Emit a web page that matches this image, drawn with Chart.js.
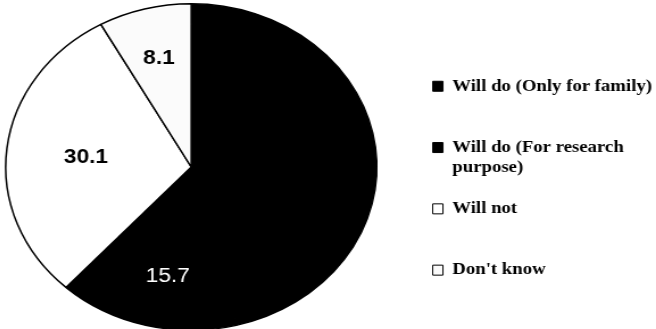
<!DOCTYPE html>
<html>
<head>
<meta charset="utf-8">
<script src="https://cdn.jsdelivr.net/npm/chart.js@4/dist/chart.umd.min.js"></script>
<style>
  html, body { margin: 0; padding: 0; background: #fff; overflow: hidden; }
  #pie { display: block; margin-left: -26.15px; }
</style>
</head>
<body>
<canvas id="pie" width="600" height="334" style="width:682.1px;height:334px"></canvas>
<script>
// data (percent); the first slice has no printed value
const categories = ['Will do (Only for family)', 'Will do (For research purpose)', 'Will not', "Don't know"];
const values = [46.1, 15.7, 30.1, 8.1];
const legendLines = [['Will do (Only for family)', ''], ['Will do (For research', 'purpose)'], ['Will not', ''], ["Don't know", '']];
const shownLabels = [false, true, true, true];

const sliceColors = ['#000000', '#000000', '#ffffff', '#fbfbfb'];
const labelColors = ['#000', '#fff', '#000', '#000'];
const labelWeights = ['bold', 'normal', 'bold', 'bold'];
const labelRadius = [0.6, 0.68, 0.57, 0.69];
const labelShiftDeg = [0, -3.5, -1, 0];

const valueLabels = {
    id: 'valueLabels',
    afterDatasetsDraw(chart) {
        const ctx = chart.ctx;
        const meta = chart.getDatasetMeta(0);
        ctx.save();
        ctx.textAlign = 'center';
        ctx.textBaseline = 'middle';
        meta.data.forEach((arc, i) => {
            if (!shownLabels[i]) return;
            const p = arc.getProps(['x', 'y', 'startAngle', 'endAngle', 'outerRadius'], true);
            const mid = (p.startAngle + p.endAngle) / 2 + labelShiftDeg[i] * Math.PI / 180;
            const r = p.outerRadius * labelRadius[i];
            ctx.font = labelWeights[i] + ' 20px "Liberation Sans", Arial, sans-serif';
            ctx.fillStyle = labelColors[i];
            ctx.fillText(values[i].toFixed(1), p.x + Math.cos(mid) * r, p.y + Math.sin(mid) * r);
        });
        ctx.restore();
    }
};

new Chart(document.querySelector('#pie').getContext('2d'), {
    type: 'pie',
    data: {
        labels: categories,
        datasets: [{
            data: values,
            backgroundColor: sliceColors,
            borderColor: '#000',
            borderWidth: 1.5
        }]
    },
    options: {
        responsive: false,
        animation: false,
        devicePixelRatio: 1,
        layout: { padding: { top: 3, bottom: 3, left: 0, right: -6.5 } },
        plugins: {
            tooltip: { enabled: false },
            legend: {
                position: 'right',
                align: 'center',
                title: { display: true, text: '', padding: 15.75 },
                labels: {
                    boxWidth: 9,
                    boxHeight: 10,
                    padding: 21.3,
                    color: '#000',
                    font: { family: '"Liberation Serif", "Times New Roman", serif', size: 16.5, weight: 'bold', lineHeight: '20px' },
                    generateLabels(chart) {
                        const items = Chart.overrides.pie.plugins.legend.labels.generateLabels(chart);
                        return items.map((item, i) => ({ ...item, text: legendLines[i], lineWidth: 1, strokeStyle: '#000' }));
                    }
                }
            }
        }
    },
    plugins: [valueLabels]
});
</script>
</body>
</html>
